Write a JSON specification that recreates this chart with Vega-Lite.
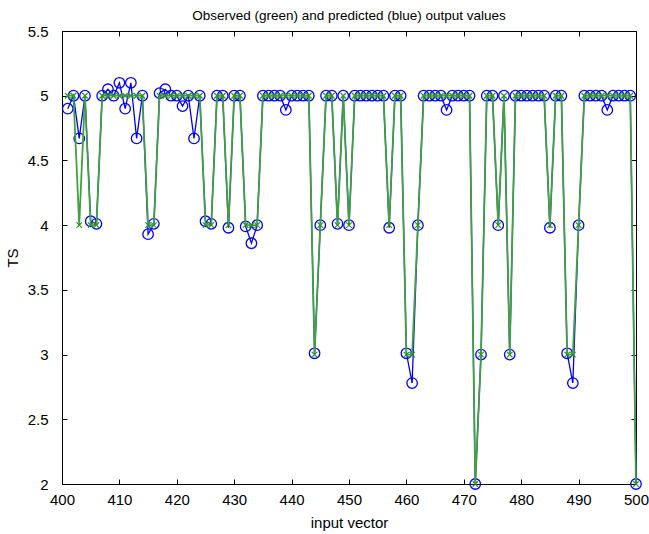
{
  "$schema": "https://vega.github.io/schema/vega-lite/v6.json",
  "width": 574,
  "height": 453,
  "autosize": {"type": "none"},
  "padding": {"left": 62, "top": 31, "right": 13, "bottom": 50},
  "background": "white",
  "config": {
    "font": "Liberation Sans",
    "view": {"stroke": "black", "strokeWidth": 1},
    "axis": {"grid": false, "domain": false, "tickColor": "black", "tickSize": 5, "tickWidth": 1, "offset": -5, "labelColor": "black", "titleColor": "black", "labelFont": "Liberation Sans", "titleFont": "Liberation Sans", "titleFontWeight": "normal", "labelFlush": false, "labelOverlap": false}
  },
  "title": {"text": "Observed (green) and predicted (blue) output values", "fontSize": 13.5, "fontWeight": "normal", "font": "Liberation Sans", "color": "black", "offset": 2},
  "data": {"values": [
    {"x":401,"obs":5,"pred":4.90},{"x":402,"obs":5,"pred":5.00},{"x":403,"obs":4,"pred":4.67},{"x":404,"obs":5,"pred":5.00},
    {"x":405,"obs":4,"pred":4.03},{"x":406,"obs":4,"pred":4.01},{"x":407,"obs":5,"pred":5.00},{"x":408,"obs":5,"pred":5.05},
    {"x":409,"obs":5,"pred":5.00},{"x":410,"obs":5,"pred":5.10},{"x":411,"obs":5,"pred":4.90},{"x":412,"obs":5,"pred":5.10},
    {"x":413,"obs":5,"pred":4.67},{"x":414,"obs":5,"pred":5.00},{"x":415,"obs":4,"pred":3.93},{"x":416,"obs":4,"pred":4.01},
    {"x":417,"obs":5,"pred":5.02},{"x":418,"obs":5,"pred":5.05},{"x":419,"obs":5,"pred":5.00},{"x":420,"obs":5,"pred":5.00},
    {"x":421,"obs":5,"pred":4.92},{"x":422,"obs":5,"pred":5.00},{"x":423,"obs":5,"pred":4.67},{"x":424,"obs":5,"pred":5.00},
    {"x":425,"obs":4,"pred":4.03},{"x":426,"obs":4,"pred":4.01},{"x":427,"obs":5,"pred":5.00},{"x":428,"obs":5,"pred":5.00},
    {"x":429,"obs":4,"pred":3.98},{"x":430,"obs":5,"pred":5.00},{"x":431,"obs":5,"pred":5.00},{"x":432,"obs":4,"pred":3.99},
    {"x":433,"obs":4,"pred":3.86},{"x":434,"obs":4,"pred":4.00},{"x":435,"obs":5,"pred":5.00},{"x":436,"obs":5,"pred":5.00},
    {"x":437,"obs":5,"pred":5.00},{"x":438,"obs":5,"pred":5.00},{"x":439,"obs":5,"pred":4.89},{"x":440,"obs":5,"pred":5.00},
    {"x":441,"obs":5,"pred":5.00},{"x":442,"obs":5,"pred":5.00},{"x":443,"obs":5,"pred":5.00},{"x":444,"obs":3,"pred":3.01},
    {"x":445,"obs":4,"pred":4.00},{"x":446,"obs":5,"pred":5.00},{"x":447,"obs":5,"pred":5.00},{"x":448,"obs":4,"pred":4.01},
    {"x":449,"obs":5,"pred":5.00},{"x":450,"obs":4,"pred":4.00},{"x":451,"obs":5,"pred":5.00},{"x":452,"obs":5,"pred":5.00},
    {"x":453,"obs":5,"pred":5.00},{"x":454,"obs":5,"pred":5.00},{"x":455,"obs":5,"pred":5.00},{"x":456,"obs":5,"pred":5.00},
    {"x":457,"obs":4,"pred":3.98},{"x":458,"obs":5,"pred":5.00},{"x":459,"obs":5,"pred":5.00},{"x":460,"obs":3,"pred":3.01},
    {"x":461,"obs":3,"pred":2.78},{"x":462,"obs":4,"pred":4.00},{"x":463,"obs":5,"pred":5.00},{"x":464,"obs":5,"pred":5.00},
    {"x":465,"obs":5,"pred":5.00},{"x":466,"obs":5,"pred":5.00},{"x":467,"obs":5,"pred":4.89},{"x":468,"obs":5,"pred":5.00},
    {"x":469,"obs":5,"pred":5.00},{"x":470,"obs":5,"pred":5.00},{"x":471,"obs":5,"pred":5.00},{"x":472,"obs":2,"pred":2.00},
    {"x":473,"obs":3,"pred":3.00},{"x":474,"obs":5,"pred":5.00},{"x":475,"obs":5,"pred":5.00},{"x":476,"obs":4,"pred":4.00},
    {"x":477,"obs":5,"pred":5.00},{"x":478,"obs":3,"pred":3.00},{"x":479,"obs":5,"pred":5.00},{"x":480,"obs":5,"pred":5.00},
    {"x":481,"obs":5,"pred":5.00},{"x":482,"obs":5,"pred":5.00},{"x":483,"obs":5,"pred":5.00},{"x":484,"obs":5,"pred":5.00},
    {"x":485,"obs":4,"pred":3.98},{"x":486,"obs":5,"pred":5.00},{"x":487,"obs":5,"pred":5.00},{"x":488,"obs":3,"pred":3.01},
    {"x":489,"obs":3,"pred":2.78},{"x":490,"obs":4,"pred":4.00},{"x":491,"obs":5,"pred":5.00},{"x":492,"obs":5,"pred":5.00},
    {"x":493,"obs":5,"pred":5.00},{"x":494,"obs":5,"pred":5.00},{"x":495,"obs":5,"pred":4.89},{"x":496,"obs":5,"pred":5.00},
    {"x":497,"obs":5,"pred":5.00},{"x":498,"obs":5,"pred":5.00},{"x":499,"obs":5,"pred":5.00},{"x":500,"obs":2,"pred":2.00}
  ]},
  "resolve": {"axis": {"x": "independent", "y": "independent"}},
  "layer": [
    {
      "mark": {"type": "line", "color": "#0000ff", "strokeWidth": 1.3},
      "encoding": {
        "x": {"field": "x", "type": "quantitative", "scale": {"domain": [400, 500], "nice": false, "zero": false},
              "axis": {"orient": "bottom", "title": "input vector", "values": [400,410,420,430,440,450,460,470,480,490,500], "format": "d", "labelPadding": 8, "labelFontSize": 15, "titleFontSize": 15, "titlePadding": 8}},
        "y": {"field": "pred", "type": "quantitative", "scale": {"domain": [2, 5.5], "nice": false, "zero": false},
              "axis": {"orient": "left", "title": "TS", "values": [2,2.5,3,3.5,4,4.5,5,5.5], "format": "~g", "labelPadding": 14, "labelFontSize": 15, "titleFontSize": 15, "titlePadding": 7}}
      }
    },
    {
      "mark": {"type": "point", "shape": "circle", "filled": false, "color": "#0000ff", "size": 110, "strokeWidth": 1.3, "opacity": 1},
      "encoding": {
        "x": {"field": "x", "type": "quantitative",
              "axis": {"orient": "top", "title": null, "labels": false, "values": [400,410,420,430,440,450,460,470,480,490,500], "minExtent": 0, "maxExtent": 0}},
        "y": {"field": "pred", "type": "quantitative",
              "axis": {"orient": "right", "title": null, "labels": false, "values": [2,2.5,3,3.5,4,4.5,5,5.5], "minExtent": 0, "maxExtent": 0}}
      }
    },
    {
      "mark": {"type": "line", "color": "#42a042", "strokeWidth": 1.8},
      "encoding": {
        "x": {"field": "x", "type": "quantitative", "axis": null},
        "y": {"field": "obs", "type": "quantitative", "axis": null}
      }
    },
    {
      "mark": {"type": "point", "shape": "M-1,-1L1,1M-1,1L1,-1", "filled": false, "color": "#2f902f", "size": 30, "strokeWidth": 1.2, "opacity": 1},
      "encoding": {
        "x": {"field": "x", "type": "quantitative", "axis": null},
        "y": {"field": "obs", "type": "quantitative", "axis": null}
      }
    }
  ]
}
